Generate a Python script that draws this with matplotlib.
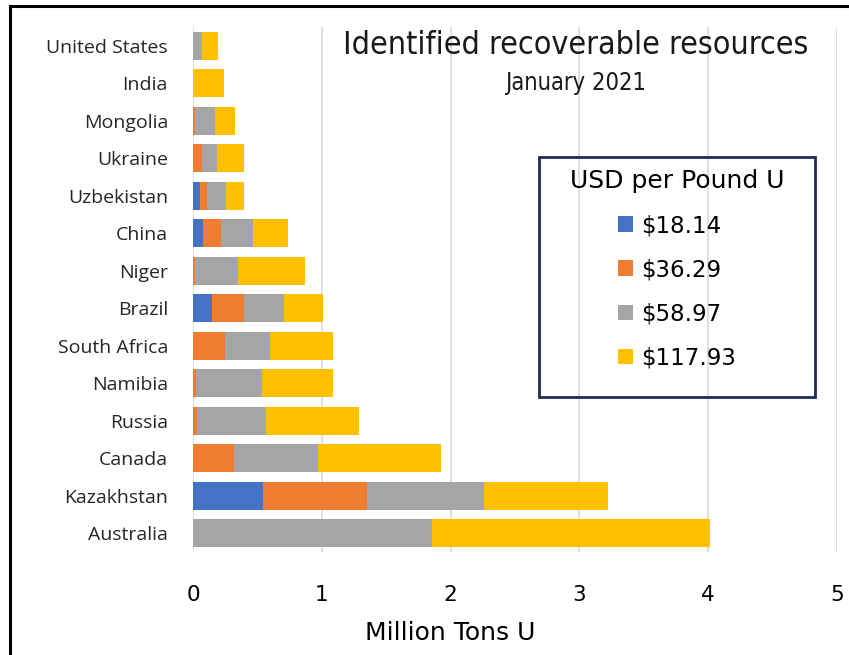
import matplotlib.pyplot as plt
from matplotlib.patches import Patch, Rectangle
from matplotlib.lines import Line2D

# Identified recoverable uranium resources, million tons U
countries = ['United States', 'India', 'Mongolia', 'Ukraine', 'Uzbekistan', 'China', 'Niger',
             'Brazil', 'South Africa', 'Namibia', 'Russia', 'Canada', 'Kazakhstan', 'Australia']
usd_18 = [0.0, 0.0, 0.0, 0.0, 0.054, 0.078, 0.0, 0.145, 0.0, 0.0, 0.0, 0.0, 0.547, 0.0]
usd_36 = [0.0, 0.0, 0.015, 0.07, 0.055, 0.139, 0.015, 0.25, 0.248, 0.02, 0.03, 0.315, 0.804, 0.0]
usd_59 = [0.07, 0.0, 0.158, 0.119, 0.144, 0.25, 0.334, 0.31, 0.346, 0.515, 0.536, 0.654, 0.906, 1.852]
usd_118 = [0.126, 0.238, 0.153, 0.204, 0.14, 0.267, 0.519, 0.305, 0.496, 0.555, 0.72, 0.955, 0.965, 2.162]

series = [usd_18, usd_36, usd_59, usd_118]
labels = ['$18.14', '$36.29', '$58.97', '$117.93']
colors = ['#4472C4', '#ED7D31', '#A5A5A5', '#FFC000']

fig = plt.figure(figsize=(8.49, 6.55), dpi=100)
W, H = 849, 655
ax = fig.add_axes([193 / W, 1 - 552 / H, 644 / W, 525 / H])

# stacked horizontal bars
ypos = list(range(len(countries)))
left = [0.0] * len(countries)
for vals, lab, col in zip(series, labels, colors):
    ax.barh(ypos, vals, left=left, height=0.75, color=col, label=lab, zorder=3)
    left = [a + b for a, b in zip(left, vals)]

ax.set_ylim(len(countries) - 0.5, -0.5)
ax.set_xlim(0, 5)
ax.set_xticks([0, 1, 2, 3, 4, 5])
ax.set_yticks(ypos)
ax.set_yticklabels(countries, fontsize=14, family='Open Sans', color='#262626')
ax.tick_params(axis='x', labelsize=15.5, length=0, pad=24, colors='#000000')
ax.tick_params(axis='y', length=0, pad=18)
ax.grid(axis='x', color='#D9D9D9', linewidth=1.2, zorder=0)
for s in ax.spines.values():
    s.set_visible(False)

ax.set_xlabel('Million Tons U', fontsize=18)
ax.xaxis.set_label_coords((450 - 193) / 644, -(621 - 552) / 525)

fig.text(576 / W, 1 - 45 / H, 'Identified recoverable resources', ha='center', va='center',
         fontsize=23, family='DejaVu Sans', stretch='condensed', color='#1a1a1a')
fig.text(576 / W, 1 - 83 / H, 'January 2021', ha='center', va='center',
         fontsize=17, family='DejaVu Sans', stretch='condensed', color='#1a1a1a')

# legend without its own frame; box drawn separately
handles = [Patch(facecolor=c) for c in colors]
leg = ax.legend(handles, labels, title='USD per Pound U', loc='upper center',
                bbox_to_anchor=((677 - 193) / 644, 1 - (169 - 27) / 525),
                fontsize=16.5, title_fontsize=18, frameon=False,
                borderpad=0, labelspacing=0.92, handlelength=0.65, handleheight=0.65,
                handletextpad=0.35, borderaxespad=0)
fig.add_artist(Rectangle((539 / W, 1 - 397 / H), 276 / W, 240 / H, transform=fig.transFigure,
                         fill=False, edgecolor='#1F2D50', linewidth=2))

# screenshot-like border on top and left
fig.add_artist(Line2D([9.5 / W, 1.0], [1 - 5.5 / H, 1 - 5.5 / H], color='black', linewidth=2.2,
                      transform=fig.transFigure))
fig.add_artist(Line2D([9.5 / W, 9.5 / W], [0.0, 1 - 5.5 / H], color='black', linewidth=2.2,
                      transform=fig.transFigure))

fig.savefig('out.png', dpi=100)
